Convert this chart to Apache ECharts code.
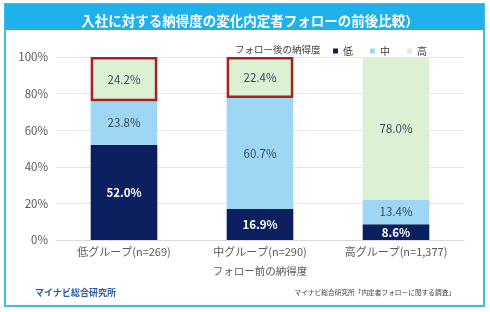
<!DOCTYPE html>
<html>
<head>
<meta charset="utf-8">
<script src="https://cdn.jsdelivr.net/npm/echarts@6/dist/echarts.min.js"></script>
<style>
  html, body { margin: 0; padding: 0; background: #fff; }
  #chart { width: 490px; height: 312px; }
</style>
</head>
<body>
<div id="chart"></div>
<script>
  // ===== データ =====
  const categories = ["低グループ(n=269)", "中グループ(n=290)", "高グループ(n=1,377)"];
  const lowVals  = [52.0, 16.9, 8.6];
  const midVals  = [23.8, 60.7, 13.4];
  const highVals = [24.2, 22.4, 78.0];
  const highlighted = [true, true, false];   // 赤枠で囲む「高」
  const yTicks = [0, 20, 40, 60, 80, 100];

  const FONT = "'Noto Sans CJK JP', 'Noto Sans', sans-serif";
  const C_LOW = "#0c1f5e", C_MID = "#9dd7f4", C_HIGH = "#dcf0d4";

  const chart = echarts.init(document.getElementById("chart"), null, { renderer: "canvas" });

  const label = (color, bold) => ({
    show: true, position: "inside", fontSize: 11.5, fontFamily: FONT,
    color: color, fontWeight: bold ? "bold" : "normal",
    formatter: p => p.value.toFixed(1) + "%",
  });

  chart.setOption({
    animation: false,
    textStyle: { fontFamily: FONT },
    graphic: [
      { type: "rect", shape: { x: 5, y: 4, width: 479, height: 302 },
        style: { fill: "none", stroke: "#3fb8ea", lineWidth: 2 }, z: 0 },
      { type: "rect", shape: { x: 5, y: 4, width: 479, height: 26 },
        style: { fill: "#1fb1ec" }, z: 0 },
    ],
    title: [
      { text: "入社に対する納得度の変化内定者フォローの前後比較）", left: 245, top: 9, textAlign: "center",
        textStyle: { color: "#fff", fontSize: 13.5, fontWeight: "bold", fontFamily: FONT } },
      { text: "フォロー後の納得度", left: 230, top: 40,
        textStyle: { color: "#404040", fontSize: 9.5, fontWeight: "normal", fontFamily: FONT } },
      { text: "マイナビ総合研究所", left: 30, top: 283,
        textStyle: { color: "#2b5aa6", fontSize: 9, fontWeight: "bold", fontFamily: FONT } },
      { text: "マイナビ総合研究所「内定者フォローに関する調査」", right: 30, top: 284,
        textStyle: { color: "#404040", fontSize: 6.7, fontWeight: "normal", fontFamily: FONT } },
    ],
    legend: {
      left: 328, top: 41, itemWidth: 5, itemHeight: 5, itemGap: 17, icon: "rect",
      textStyle: { color: "#404040", fontSize: 10, fontFamily: FONT },
      data: ["低", "中", "高"],
    },
    grid: { left: 56, right: 26, top: 57, bottom: 72 },
    xAxis: {
      type: "category", data: categories,
      axisTick: { show: false },
      axisLine: { lineStyle: { color: "#d9d9d9" } },
      axisLabel: { color: "#595959", fontSize: 11, margin: 6, fontFamily: FONT },
      name: "フォロー前の納得度", nameLocation: "middle", nameGap: 26,
      nameTextStyle: { color: "#595959", fontSize: 10.5, fontFamily: FONT },
    },
    yAxis: {
      type: "value", min: yTicks[0], max: yTicks[yTicks.length - 1], interval: 20,
      axisLine: { show: false }, axisTick: { show: false },
      splitLine: { lineStyle: { color: "#e6e6e6" } },
      axisLabel: { color: "#595959", fontSize: 11.5, margin: 8, formatter: v => v + "%", fontFamily: FONT },
    },
    series: [
      { name: "低", type: "bar", stack: "t", barWidth: "49%", data: lowVals,
        itemStyle: { color: C_LOW }, label: label("#fff", true) },
      { name: "中", type: "bar", stack: "t", data: midVals,
        itemStyle: { color: C_MID }, label: label("#3a4a5a", false) },
      { name: "高", type: "bar", stack: "t",
        data: highVals.map((v, i) => highlighted[i]
          ? { value: v, itemStyle: { borderColor: "#a8211f", borderWidth: 2.5 } }
          : v),
        itemStyle: { color: C_HIGH }, label: label("#3a4a5a", false) },
    ],
  });
</script>
</body>
</html>
